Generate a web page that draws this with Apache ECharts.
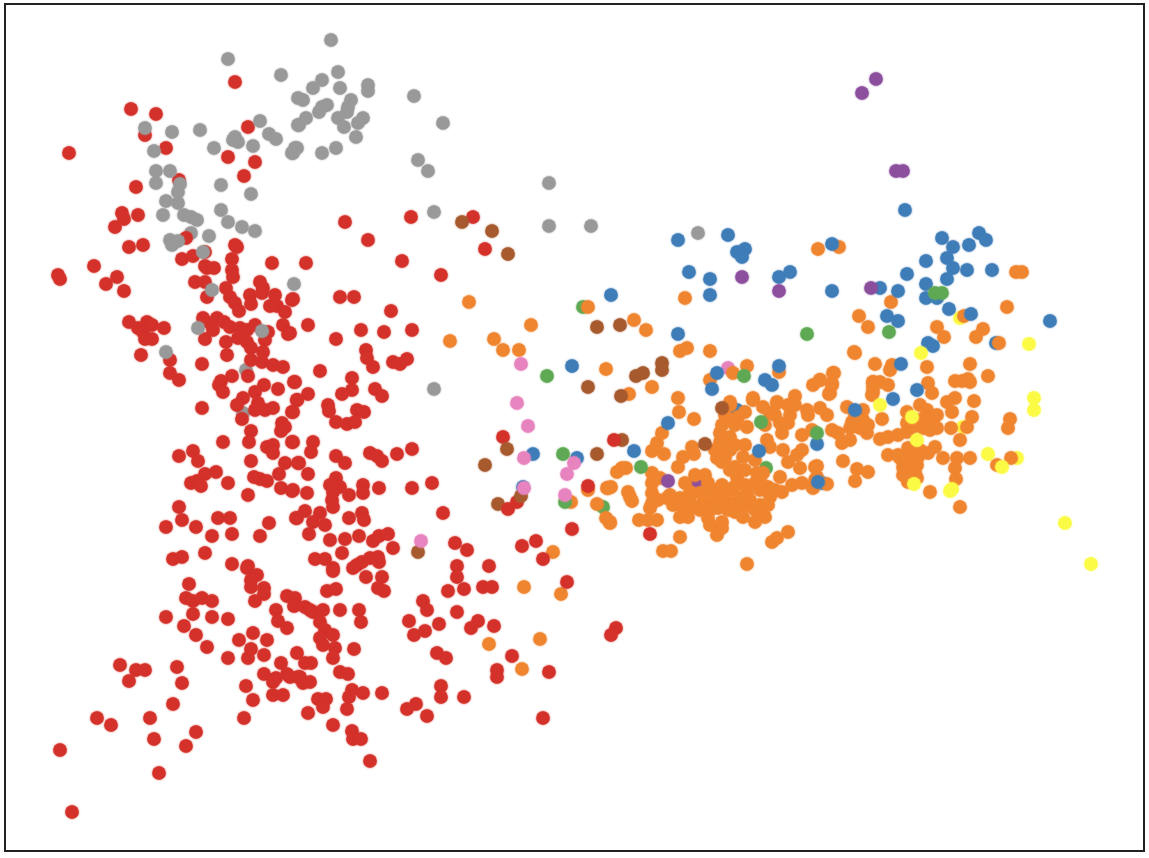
<!DOCTYPE html>
<html>
<head>
<meta charset="utf-8">
<title>scatter</title>
<script src="https://cdn.jsdelivr.net/npm/echarts@6/dist/echarts.min.js"></script>
<style>
html, body { margin: 0; padding: 0; background: #fff; }
#main { width: 1149px; height: 858px; }
</style>
</head>
<body>
<div id="main"></div>
<script>
// values, [x, y] with y growing downwards
var blue_under = [[996,343],[737,410],[822,483],[523,487],[697,481]];
var green_under = [[583,307],[603,507],[766,468]];
var purple_under = [[697,481]];
var yellow_under = [[960,318],[1017,458],[963,427]];
var pink_under = [[728,368]];
var brown_under = [[622,440],[498,504]];
var gray_under = [[191,233],[246,370],[243,413]];

var orange = [
	[524,587],[561,594],[489,644],[540,639],[522,669],[469,302],[531,325],[450,341],[494,339],[503,350],[519,350],
	[588,307],[606,369],[588,490],[608,488],[571,502],[597,504],[606,518],[610,523],[553,552],
	[818,249],[839,247],[685,298],[634,320],[646,330],[680,351],[687,348],[710,351],[652,387],[629,394],
	[859,316],[868,327],[855,353],[875,364],[710,380],[733,373],[747,366],[779,372],[813,385],[820,380],[834,373],
	[832,385],[829,394],[795,396],[753,398],[730,402],[678,398],[873,382],[873,392],[777,402],
	[679,412],[694,419],[662,433],[657,443],[652,451],[664,454],[692,447],[694,454],[683,457],[678,467],
	[622,468],[617,472],[626,468],[652,473],[652,483],[652,493],[611,487],[607,488],[628,492],[630,497],[632,501],
	[650,508],[610,522],[639,520],[648,520],[657,520],[680,537],[663,551],[671,551],[747,564],[788,532],[777,538],[772,542],
	[667,498],[673,505],[683,507],[695,507],[703,503],[713,500],[723,495],[733,503],[743,507],[723,505],[700,493],
	[695,475],[705,475],[685,483],[690,492],[708,483],[680,517],[688,517],[708,518],[710,525],[722,522],[717,535],[722,528],
	[743,517],[755,522],[765,517],[760,505],[768,505],[770,497],[747,493],[760,490],[780,477],[782,492],[792,485],[802,483],[813,487],
	[737,477],[735,467],[743,457],[745,445],[757,473],[763,473],[755,460],[720,433],[730,437],[715,450],[725,450],[717,458],[725,458],
	[728,420],[730,405],[738,417],[747,427],[753,400],[763,407],[770,413],[777,403],[788,405],[807,410],[808,415],
	[780,423],[788,423],[767,440],[770,447],[782,433],[783,450],[788,462],[802,450],[797,455],[802,435],[812,430],[800,468],[815,467],[815,480],
	[1016,272],[1022,272],[891,302],[1007,307],[937,327],[944,337],[983,329],[976,337],[999,343],[964,316],[854,352],
	[892,365],[890,370],[927,367],[970,364],[988,376],[955,381],[962,381],[968,379],[970,382],[833,373],[830,393],[832,383],[820,380],
	[873,382],[888,385],[872,395],[928,383],[932,393],[947,402],[955,398],[974,401],[952,412],[847,407],[820,408],[827,415],[863,410],
	[852,422],[863,420],[867,433],[882,419],[920,405],[907,412],[927,410],[937,415],[933,425],[907,423],[937,428],[923,428],[913,427],
	[972,417],[967,427],[951,428],[1010,419],[1008,428],[960,440],[832,430],[838,433],[842,443],[850,440],[880,439],[888,437],[898,435],[907,432],
	[888,455],[898,455],[908,448],[910,458],[918,457],[928,453],[935,447],[943,458],[903,467],[917,465],[910,473],[908,482],[917,478],
	[957,458],[970,458],[955,468],[956,479],[1011,458],[997,465],[843,461],[817,466],[817,477],[813,488],[857,469],[868,472],[855,481],[827,484],[930,492],[960,507],
	[670,495],[680,498],[690,502],[700,510],[710,510],[718,508],[728,510],[735,512],[750,500],[755,510],[740,498],[730,490],[716,490],[710,495],
	[722,485],[734,487],[745,485],[755,483],[768,487],[775,490],[760,480],[745,470],[730,470],[725,415],[735,425],[722,425],[720,442],[735,445],
	[730,450],[722,462],[900,458],[905,463],[913,462],[908,470],[915,472],[903,475],[920,450],[925,418],[930,420],[918,420],[930,430],
	[855,415],[860,428],[868,425],[850,428],[880,382],[873,387],[660,478],[658,500],[652,503],[765,425],[775,415],[790,415],[795,405],[745,412]
];

var red = [
	[235,82],[131,109],[156,114],[248,127],[145,135],[166,148],[69,153],[228,157],[255,162],[244,176],[179,180],[136,187],[122,213],[138,215],
	[124,219],[115,227],[186,238],[143,245],[129,247],[235,245],[237,247],[205,252],[182,259],[193,256],[232,259],[232,270],[272,263],[94,266],
	[205,266],[207,268],[214,268],[233,277],[58,275],[60,279],[117,277],[106,284],[195,282],[205,282],[226,288],[260,282],[263,288],[124,291],
	[207,297],[230,297],[235,303],[239,311],[250,295],[251,304],[262,293],[275,295],[270,306],[277,306],[285,312],[292,300],
	[129,322],[147,322],[152,325],[138,328],[143,332],[164,328],[145,339],[152,339],[141,355],[170,360],[170,373],[179,380],
	[203,318],[217,318],[210,323],[224,322],[230,327],[213,330],[205,339],[240,328],[247,330],[238,338],[226,342],[247,342],[227,355],[251,348],
	[255,325],[268,332],[265,340],[263,352],[283,325],[288,334],[251,360],[262,362],[273,365],[283,367],[202,364],[232,376],[248,376],[221,381],
	[219,385],[223,392],[264,385],[255,392],[278,389],[294,382],[297,400],[243,398],[237,405],[258,403],[255,410],[265,410],[273,408],[292,412],
	[242,419],[202,408],[282,423],[285,427],[281,431],[251,431],[249,442],[223,442],[292,442],[273,445],[267,447],[273,453],[193,451],[179,456],
	[198,461],[251,461],[285,463],[298,463],[216,472],[205,474],[279,474],[254,477],[260,479],[267,481],[191,483],[197,481],[201,486],[228,483],
	[281,488],[292,491],[248,495],[179,507],[218,518],[230,518],[182,520],[166,527],[196,527],[212,536],[232,534],[269,523],[260,536],[296,518],
	[205,553],[173,559],[182,557],[232,564],[248,566],[247,568],[257,575],[251,580],[251,587],[264,588],[264,594],[189,584],[186,598],[193,601],
	[202,598],[212,601],[255,601],[287,596],[295,598],[294,606],[276,610],[193,614],[212,617],[228,619],[166,617],[278,621],[287,628],[184,626],
	[253,633],[196,635],[239,640],[267,640],[207,647],[251,649],[248,658],[264,655],[228,658],[297,653],[281,663],[120,665],[136,670],[145,670],
	[177,667],[264,674],[276,678],[273,682],[287,674],[298,677],[129,681],[182,683],[246,686],[273,695],[283,695],[253,700],[173,704],[97,718],
	[150,718],[244,718],[111,725],[196,732],[154,739],[186,746],[60,750],[159,773],[72,812],
	[345,222],[411,217],[473,217],[368,240],[485,249],[402,261],[441,275],[306,263],
	[340,297],[354,297],[293,299],[391,311],[308,325],[361,330],[384,332],[412,330],[290,333],[336,339],[366,350],[367,358],[373,367],[393,362],
	[400,364],[407,359],[320,371],[352,378],[295,382],[352,390],[342,394],[308,394],[297,400],[375,389],[382,396],[328,405],[329,411],[357,410],
	[364,412],[293,412],[336,422],[347,424],[355,422],[313,442],[311,452],[293,442],[412,449],[397,454],[370,453],[377,456],[382,461],[336,456],
	[345,463],[299,463],[308,474],[336,478],[330,485],[340,487],[333,492],[363,485],[363,493],[379,488],[412,488],[432,483],[293,490],[307,493],
	[349,495],[332,500],[333,507],[443,513],[305,511],[320,513],[297,518],[349,518],[362,513],[364,520],[313,522],[325,525],[309,534],[330,540],
	[345,539],[359,536],[373,541],[379,536],[388,534],[393,548],[342,553],[315,559],[325,559],[333,568],[357,565],[370,558],[378,557],[362,562],[379,562],
	[503,437],[455,543],[467,550],[522,546],[536,541],[543,559],[508,509],[517,502],[572,529],[588,486],[614,440],[650,534],
	[457,566],[489,566],[457,577],[448,591],[464,589],[483,587],[492,587],[567,582],[382,577],[378,588],[384,591],[366,577],[353,568],[333,571],
	[327,591],[336,589],[423,601],[427,610],[295,605],[305,607],[310,610],[313,612],[323,610],[340,610],[359,610],[361,622],[409,621],[457,612],
	[439,624],[425,631],[414,635],[320,622],[325,630],[333,635],[320,638],[323,645],[478,621],[471,628],[494,626],[616,628],[611,635],[354,649],
	[335,648],[333,658],[305,663],[311,663],[437,653],[446,658],[512,656],[340,672],[348,674],[497,670],[497,677],[549,672],[290,677],[300,677],
	[303,683],[310,682],[352,690],[363,693],[382,693],[349,697],[441,686],[441,697],[464,697],[318,699],[326,699],[323,707],[347,709],[416,704],
	[407,709],[308,713],[427,716],[543,718],[333,725],[352,731],[353,739],[361,739],[370,761]
];

var gray = [
	[228,59],[281,75],[298,98],[298,125],[260,121],[145,128],[172,132],[200,130],[235,137],[238,142],[233,140],[269,134],[276,139],[253,146],
	[214,148],[154,151],[295,148],[292,153],[156,171],[170,171],[156,183],[180,184],[178,192],[221,185],[251,194],[166,201],[178,203],[221,210],
	[163,215],[184,215],[191,217],[197,220],[228,222],[242,227],[255,231],[209,236],[170,240],[172,245],[178,241],[203,252],[294,284],
	[212,290],[198,328],[262,331],[166,352],
	[331,40],[338,72],[322,80],[313,88],[340,88],[368,85],[368,91],[303,100],[351,100],[327,105],[322,107],[319,112],[348,107],[347,112],[338,118],
	[306,118],[299,125],[344,127],[363,118],[358,123],[356,137],[336,148],[322,153],[297,148],[293,153],[414,96],[443,123],[418,160],[428,171],
	[549,183],[434,212],[549,226],[591,226],[434,389],[698,233]
];

var brown = [
	[462,222],[492,231],[508,254],[597,327],[588,387],[507,449],[485,465],[597,454],[521,496],[418,552],
	[620,325],[636,376],[643,373],[662,363],[662,370],[621,396],[705,444],[722,408]
];

var blue = [
	[611,295],[572,366],[533,454],[577,458],[678,240],[728,235],[737,252],[745,249],[742,257],[689,272],[710,279],[710,295],[779,277],[790,272],
	[832,244],[832,291],[678,334],[717,373],[712,389],[765,380],[772,385],[779,366],[880,288],[668,423],[634,451],[759,451],[817,444],[818,482],
	[905,210],[942,238],[953,247],[969,245],[979,233],[986,240],[926,261],[947,258],[953,268],[967,270],[992,270],[907,274],[947,279],[926,284],
	[898,291],[926,298],[937,298],[949,309],[971,314],[887,316],[898,321],[1050,321],[928,343],[933,346],[901,364],[917,390],[893,399],[855,410]
];

var green = [
	[547,376],[563,454],[565,502],[744,376],[807,334],[641,467],[761,422],[817,433],[935,293],[942,293],[889,332]
];

var purple = [
	[742,277],[779,291],[871,288],[668,481],[876,79],[862,93],[896,171],[903,171]
];

var pink = [
	[521,364],[517,403],[528,426],[524,458],[574,463],[567,474],[524,488],[565,495],[421,541]
];

var yellow = [
	[1029,344],[921,353],[880,405],[912,417],[917,440],[1034,398],[1034,410],[988,454],[1002,467],[914,484],[952,489],[950,491],[1065,523],[1091,564]
];

var colors = {
	red: "#d3312a", orange: "#f08530", gray: "#999999", brown: "#a65a2e", blue: "#3f7db8",
	green: "#5fa955", purple: "#8c4f9e", pink: "#e783be", yellow: "#fbfa44"
};

function scatter_series(data, color){
	return {
		type: "scatter",
		data: data,
		symbol: "circle",
		symbolSize: 13.5,
		silent: true,
		itemStyle: { color: color, opacity: 1, shadowColor: color, shadowBlur: 2 }
	};
}

var myChart = echarts.init(document.getElementById("main"), null, { renderer: "canvas" });
myChart.setOption({
	animation: false,
	backgroundColor: "#ffffff",
	tooltip: { show: false },
	grid: { left: 5, top: 4, width: 1139, height: 847, show: true, borderColor: "#222222", borderWidth: 2, backgroundColor: "#ffffff" },
	xAxis: { type: "value", min: 5, max: 1144, show: false },
	yAxis: { type: "value", min: 4, max: 851, inverse: true, show: false },
	series: [
		scatter_series(blue_under, colors.blue),
		scatter_series(green_under, colors.green),
		scatter_series(purple_under, colors.purple),
		scatter_series(yellow_under, colors.yellow),
		scatter_series(pink_under, colors.pink),
		scatter_series(brown_under, colors.brown),
		scatter_series(orange, colors.orange),
		scatter_series(gray_under, colors.gray),
		scatter_series(red, colors.red),
		scatter_series(gray, colors.gray),
		scatter_series(brown, colors.brown),
		scatter_series(blue, colors.blue),
		scatter_series(green, colors.green),
		scatter_series(purple, colors.purple),
		scatter_series(pink, colors.pink),
		scatter_series(yellow, colors.yellow)
	]
});
</script>
</body>
</html>
